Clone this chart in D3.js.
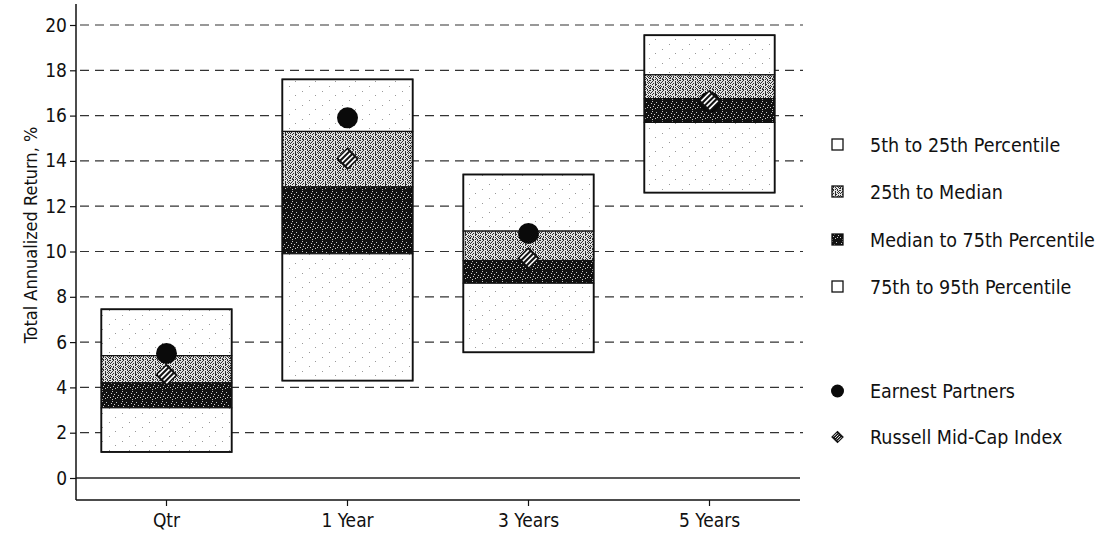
<!DOCTYPE html>
<html>
<head>
<meta charset="utf-8">
<script src="https://cdn.jsdelivr.net/npm/d3@7"></script>
<style>
  html, body { margin: 0; padding: 0; background: #fff; }
  svg { display: block; }
</style>
</head>
<body>
<svg id="chart" width="1097" height="533"></svg>
<script>
const categories = ['Qtr', '1 Year', '3 Years', '5 Years']
const p5 = [7.45, 17.6, 13.4, 19.55]
const p25 = [5.4, 15.3, 10.9, 17.8]
const p50 = [4.2, 12.85, 9.6, 16.75]
const p75 = [3.1, 9.9, 8.6, 15.7]
const p95 = [1.15, 4.3, 5.55, 12.6]
const earnest = [5.5, 15.9, 10.8, 16.6]
const russell = [4.55, 14.1, 9.7, 16.65]
const yTicks = [0, 2, 4, 6, 8, 10, 12, 14, 16, 18, 20]
const legendLabels = ['5th to 25th Percentile', '25th to Median', 'Median to 75th Percentile', '75th to 95th Percentile']
const markerLabels = ['Earnest Partners', 'Russell Mid-Cap Index']

const FONT = 'DejaVu Sans Condensed, Liberation Sans Narrow, sans-serif'
const svg = d3.select('#chart')
const defs = svg.append('defs')

// stipple textures (fixed tiles)
function tilePattern(id, rows, bg, fg) {
  const p = defs.append('pattern').attr('id', id)
    .attr('patternUnits', 'userSpaceOnUse')
    .attr('width', rows[0].length).attr('height', rows.length)
  p.append('rect').attr('width', rows[0].length).attr('height', rows.length).attr('fill', bg)
  rows.forEach((r, j) => r.split('').forEach((c, i) => {
    if (c === '#') p.append('rect').attr('x', i).attr('y', j).attr('width', 1).attr('height', 1).attr('fill', fg)
  }))
}
tilePattern('light', [
  '#..#...#.#',
  '..#..#..#.',
  '.#...#.#.#',
  '#..#.#..#.',
  '..#..##...',
  '#....#..#.',
  '.#.#...#.#',
  '#..#.#..#.',
  '#.#...#..#',
  '..##.#.#..'
], '#e2e2e2', '#2e2e2e')
tilePattern('dark', [
  '##########',
  '##.#######',
  '######.###',
  '#.########',
  '####.#####',
  '########.#',
  '###.######',
  '.######.##',
  '#####.####',
  '##.#######'
], '#c8c8c8', '#111111')
tilePattern('sparse', [
  '....................',
  '....................',
  '.........#..........',
  '....................',
  '....................',
  '....................',
  '....................',
  '..#.................',
  '....................',
  '....................',
  '....................',
  '...............#....',
  '....................',
  '....................'
], '#ffffff', '#9a9a9a')

const x = d3.scaleBand().domain(categories).range([76, 800]).paddingInner(0.28).paddingOuter(0.14)
const y = d3.scaleLinear().domain([0, 20]).range([478, 25])
const bottomY = 500
const topY = 4

// dashed grid
svg.append('g').selectAll('line').data(yTicks.filter(d => d > 0)).join('line')
  .attr('x1', 80).attr('x2', 803)
  .attr('y1', d => y(d)).attr('y2', d => y(d))
  .attr('stroke', '#333').attr('stroke-width', 1.2).attr('stroke-dasharray', '9,6')

// zero line
svg.append('line').attr('x1', 76).attr('x2', 800).attr('y1', y(0)).attr('y2', y(0))
  .attr('stroke', '#222').attr('stroke-width', 1.3)

// boxes
const segs = [
  { lo: p25, hi: p5, fill: 'url(#sparse)' },
  { lo: p50, hi: p25, fill: 'url(#light)' },
  { lo: p75, hi: p50, fill: 'url(#dark)' },
  { lo: p95, hi: p75, fill: 'url(#sparse)' }
]
const boxG = svg.append('g')
segs.forEach(s => {
  boxG.append('g').selectAll('rect').data(categories).join('rect')
    .attr('x', d => x(d)).attr('width', x.bandwidth())
    .attr('y', (d, i) => y(s.hi[i])).attr('height', (d, i) => y(s.lo[i]) - y(s.hi[i]))
    .attr('fill', s.fill).attr('stroke', '#111').attr('stroke-width', 1.2)
})
boxG.append('g').selectAll('rect').data(categories).join('rect')
  .attr('x', d => x(d)).attr('width', x.bandwidth())
  .attr('y', (d, i) => y(p5[i])).attr('height', (d, i) => y(p95[i]) - y(p5[i]))
  .attr('fill', 'none').attr('stroke', '#111').attr('stroke-width', 1.8)

// diamond marker
function diamond(g, s) {
  g.append('rect').attr('x', -s).attr('y', -s).attr('width', 2 * s).attr('height', 2 * s)
    .attr('transform', 'rotate(45)').attr('fill', '#111').attr('stroke', '#111').attr('stroke-width', 1)
  const step = s * 0.5
  ;[-1.5, -0.5, 0.5, 1.5].forEach(k => {
    g.append('line').attr('transform', 'rotate(45)')
      .attr('x1', k * step).attr('x2', k * step).attr('y1', -s + 1.5).attr('y2', s - 1.5)
      .attr('stroke', '#fff').attr('stroke-width', s * 0.22)
  })
}

// markers
svg.append('g').selectAll('circle').data(categories).join('circle')
  .attr('cx', d => x(d) + x.bandwidth() / 2).attr('cy', (d, i) => y(earnest[i]))
  .attr('r', 10.5).attr('fill', '#0a0a0a')
svg.append('g').selectAll('g').data(categories).join('g')
  .attr('transform', (d, i) => `translate(${x(d) + x.bandwidth() / 2},${y(russell[i])})`)
  .each(function () { diamond(d3.select(this), 7.5) })

// axes
svg.append('line').attr('x1', 76).attr('x2', 76).attr('y1', topY).attr('y2', bottomY)
  .attr('stroke', '#111').attr('stroke-width', 1.5)
svg.append('line').attr('x1', 76).attr('x2', 800).attr('y1', bottomY).attr('y2', bottomY)
  .attr('stroke', '#111').attr('stroke-width', 1.5)

const yAxis = svg.append('g').attr('transform', 'translate(76,0)')
  .call(d3.axisLeft(y).tickValues(yTicks).tickSize(6).tickPadding(3).tickFormat(d3.format('d')))
yAxis.select('.domain').remove()
yAxis.selectAll('line').attr('stroke', '#111').attr('stroke-width', 1.2)
yAxis.selectAll('text').attr('font-family', FONT).attr('font-size', 19).attr('fill', '#111')

const xAxis = svg.append('g').attr('transform', `translate(0,${bottomY})`)
  .call(d3.axisBottom(x).tickSize(6).tickPadding(8))
xAxis.select('.domain').remove()
xAxis.selectAll('line').attr('stroke', '#111').attr('stroke-width', 1.2)
xAxis.selectAll('text').attr('font-family', FONT).attr('font-size', 19).attr('fill', '#111')

svg.append('text')
  .attr('transform', 'translate(31,235) rotate(-90)')
  .attr('text-anchor', 'middle').attr('dy', '0.35em')
  .attr('font-family', FONT).attr('font-size', 18).attr('fill', '#111')
  .text('Total Annualized Return, %')

// legend
const legendFills = ['#ffffff', 'url(#light)', 'url(#dark)', '#ffffff']
const legendY = [145, 192, 240, 287]
const markerY = [391, 437]
const lg = svg.append('g')
legendLabels.forEach((t, i) => {
  lg.append('rect').attr('x', 832).attr('y', legendY[i] - 6).attr('width', 11).attr('height', 11)
    .attr('fill', legendFills[i]).attr('stroke', '#111').attr('stroke-width', 1.3)
  lg.append('text').attr('x', 870).attr('y', legendY[i]).attr('dy', '0.35em')
    .attr('font-family', FONT).attr('font-size', 19.5).attr('fill', '#111').text(t)
})
lg.append('circle').attr('cx', 837.5).attr('cy', markerY[0]).attr('r', 6.5).attr('fill', '#0a0a0a')
diamond(lg.append('g').attr('transform', `translate(837.5,${markerY[1]})`), 4)
markerLabels.forEach((t, i) => {
  lg.append('text').attr('x', 870).attr('y', markerY[i]).attr('dy', '0.35em')
    .attr('font-family', FONT).attr('font-size', 19.5).attr('fill', '#111').text(t)
})
</script>
</body>
</html>
